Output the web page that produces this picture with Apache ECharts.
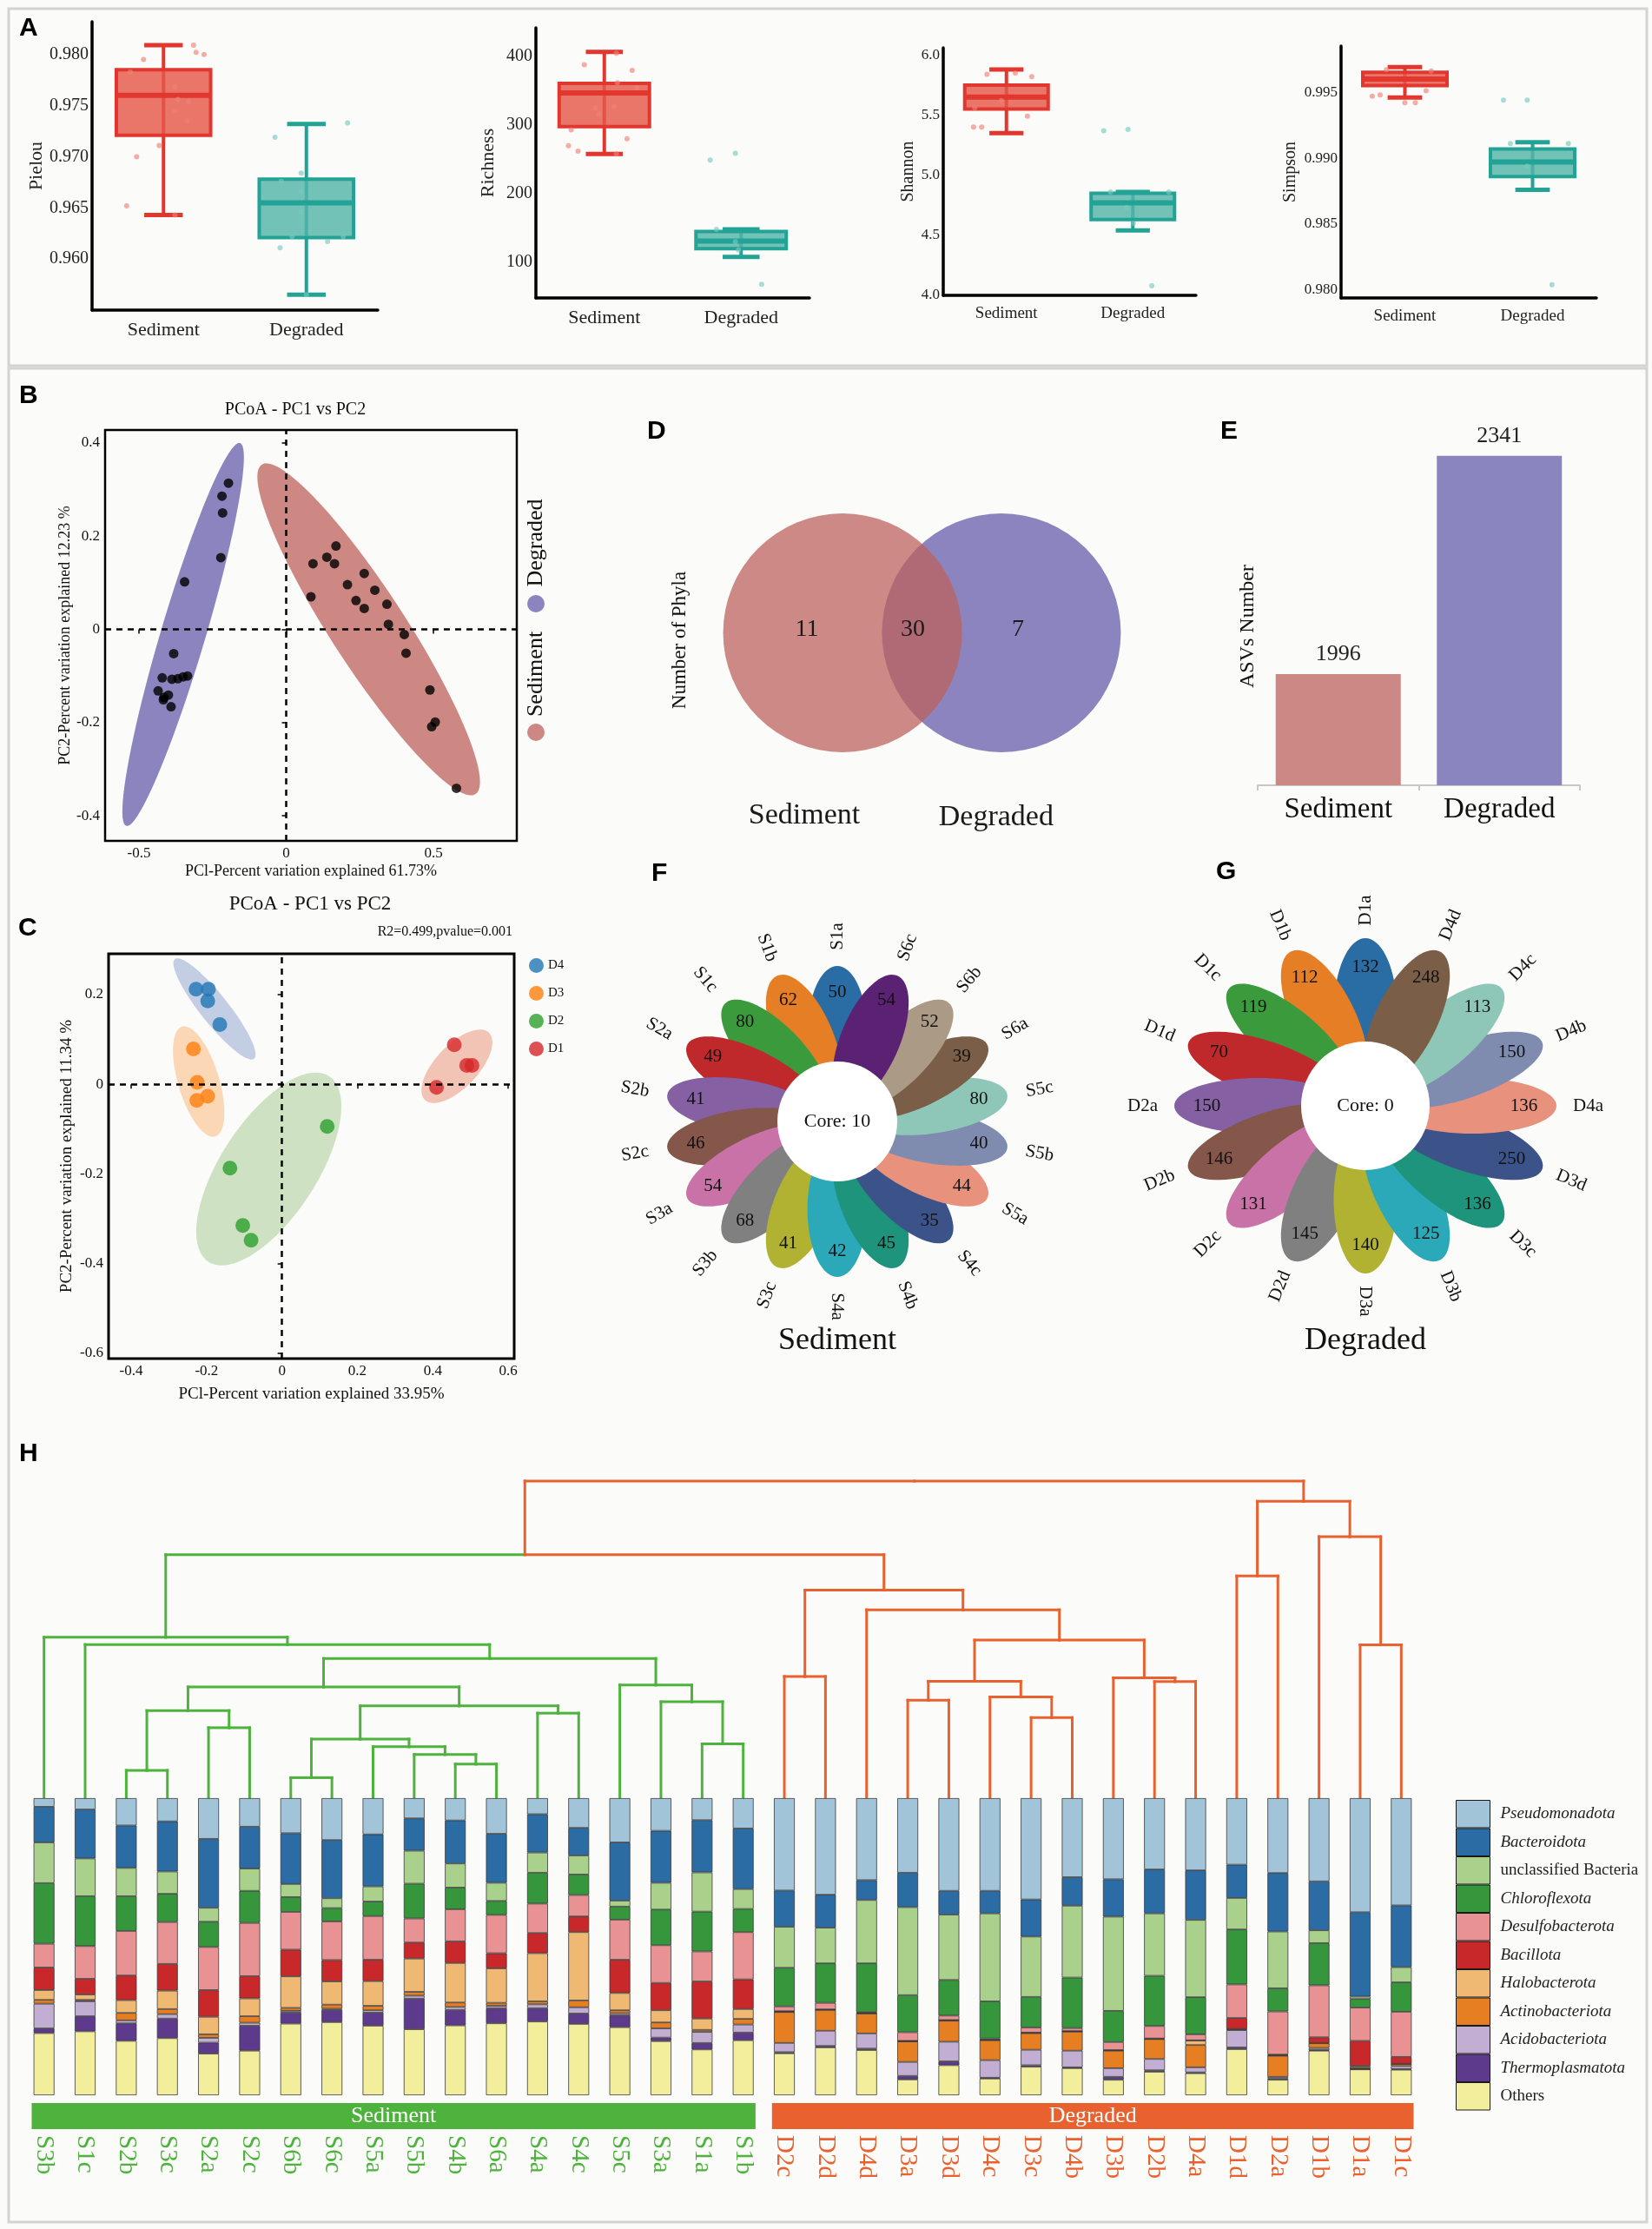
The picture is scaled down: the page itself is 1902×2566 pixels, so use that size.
<!DOCTYPE html>
<html>
<head>
<meta charset="utf-8">
<title>Figure</title>
<script src="https://cdn.jsdelivr.net/npm/echarts@6/dist/echarts.min.js"></script>
<style>
html,body{margin:0;padding:0;background:#fbfbf9;}
#chart{width:1902px;height:2566px;}
</style>
</head>
<body>
<div id="chart"></div>
<script>
// ======================= DATA =======================
const groupNames = ['Sediment', 'Degraded'];

// ---- Panel A: alpha diversity, box stats [min, Q1, median, Q3, max]
const pielouBoxSed = [0.9643, 0.9721, 0.9760, 0.9785, 0.9809];
const pielouBoxDeg = [0.9565, 0.9621, 0.9655, 0.9678, 0.9732];
const pielouTicks = [0.960, 0.965, 0.970, 0.975, 0.980];
// sample points: [horizontal jitter, value]
const pielouPtsSed = [[0.105,0.9809],[0.114,0.9802],[0.142,0.9800],[-0.07,0.9795],[-0.116,0.9783],[0.04,0.9768],[0.05,0.9756],[0.087,0.9754],[0.04,0.9745],[0.083,0.9735],[-0.015,0.9711],[-0.094,0.9700],[-0.129,0.9652],[0.04,0.9643]];
const pielouPtsDeg = [[0.144,0.9733],[-0.11,0.9719],[-0.018,0.9684],[-0.088,0.9676],[-0.018,0.9666],[-0.018,0.9646],[-0.05,0.9622],[0.129,0.9622],[0.074,0.9617],[-0.092,0.9611],[0,0.9565]];

const richBoxSed = [258, 298, 347, 361, 407];
const richBoxDeg = [108, 120, 131, 145, 148];
const richTicks = [100, 200, 300, 400];
const richPtsSed = [[0.044,405],[-0.073,388],[0.102,380],[0.048,362],[0.119,355],[-0.033,325],[-0.019,316],[0.035,327],[-0.121,293],[0.083,280],[-0.131,270],[-0.096,262],[0.044,258]];
const richPtsDeg = [[-0.113,249],[-0.021,259],[-0.09,148],[-0.021,130],[-0.01,118],[0.075,68]];

const shanBoxSed = [5.35, 5.55, 5.65, 5.75, 5.88];
const shanBoxDeg = [4.54, 4.63, 4.77, 4.85, 4.86];
const shanTicks = [4.0, 4.5, 5.0, 5.5, 6.0];
const shanPtsSed = [[-0.077,5.84],[0.035,5.85],[0.1,5.82],[-0.13,5.40],[-0.098,5.40],[0.083,5.49],[-0.02,5.62],[-0.125,5.56]];
const shanPtsDeg = [[-0.115,5.37],[-0.019,5.38],[-0.088,4.86],[0.142,4.86],[-0.025,4.73],[0.002,4.60],[0.075,4.08]];

const simpBoxSed = [0.9946, 0.9955, 0.9960, 0.9965, 0.9969];
const simpBoxDeg = [0.9876, 0.9886, 0.9897, 0.9907, 0.9912];
const simpTicks = [0.980, 0.985, 0.990, 0.995];
const simpPtsSed = [[-0.072,0.9967],[0.103,0.9966],[-0.128,0.9947],[-0.097,0.9948],[0,0.9942],[0.041,0.9942],[0.083,0.9951]];
const simpPtsDeg = [[-0.114,0.9944],[-0.021,0.9944],[-0.087,0.9911],[0.14,0.9911],[-0.021,0.9894],[0.076,0.9804]];

// ---- Panel B: PCoA (PC1, PC2)
const pcoaBDegraded = [[-0.196,0.314],[-0.218,0.286],[-0.216,0.25],[-0.222,0.154],[-0.345,0.102],[-0.382,-0.052],[-0.421,-0.104],[-0.388,-0.107],[-0.368,-0.106],[-0.35,-0.102],[-0.335,-0.1],[-0.435,-0.132],[-0.415,-0.146],[-0.4,-0.141],[-0.417,-0.151],[-0.391,-0.166]];
const pcoaBSediment = [[0.091,0.141],[0.084,0.07],[0.138,0.155],[0.164,0.141],[0.169,0.179],[0.208,0.096],[0.237,0.062],[0.265,0.12],[0.265,0.045],[0.301,0.084],[0.342,0.054],[0.347,0.011],[0.401,-0.011],[0.407,-0.051],[0.488,-0.13],[0.506,-0.199],[0.494,-0.209],[0.578,-0.341]];
const pcoaBTicksX = [-0.5, 0, 0.5];
const pcoaBTicksY = [-0.4, -0.2, 0, 0.2, 0.4];
// ellipses: [centerX, centerY, semi-axis1 (dx,dy), semi-axis2 (dx,dy)] in data units
const ellipseBDegraded = [-0.35, -0.011, 0.193, 0.411, 0.073, -0.013];
const ellipseBSediment = [0.28, 0.0, 0.362, -0.354, 0.109, 0.041];

// ---- Panel C: PCoA of degraded sub-groups
const pcoaCGroups = ['D4', 'D3', 'D2', 'D1'];
const pcoaCD4 = [[-0.228,0.212],[-0.195,0.212],[-0.197,0.186],[-0.165,0.133]];
const pcoaCD3 = [[-0.235,0.079],[-0.225,0.004],[-0.197,-0.027],[-0.226,-0.036]];
const pcoaCD2 = [[0.12,-0.094],[-0.138,-0.187],[-0.104,-0.315],[-0.082,-0.348]];
const pcoaCD1 = [[0.457,0.088],[0.49,0.042],[0.504,0.042],[0.41,-0.007]];
const ellipseCD4 = [-0.179, 0.168, 0.105, -0.111, 0.029, 0.020];
const ellipseCD3 = [-0.221, 0.006, 0.044, -0.1225, 0.052, 0.0133];
const ellipseCD2 = [-0.035, -0.189, 0.16, 0.207, 0.107, -0.0585];
const ellipseCD1 = [0.464, 0.040, 0.0847, 0.0751, 0.041, -0.0327];
const pcoaCTicksX = [-0.4, -0.2, 0, 0.2, 0.4, 0.6];
const pcoaCTicksY = [-0.6, -0.4, -0.2, 0, 0.2];

// ---- Panel D: Venn (phyla)
const vennOnlySed = 11, vennShared = 30, vennOnlyDeg = 7;

// ---- Panel E: ASVs number
const asvNumbers = [1996, 2341];

// ---- Panel F / G: flower plots (unique ASVs per sample, core)
const sedSamples = ['S1a','S1b','S1c','S2a','S2b','S2c','S3a','S3b','S3c','S4a','S4b','S4c','S5a','S5b','S5c','S6a','S6b','S6c'];
const sedUnique  = [50,62,80,49,41,46,54,68,41,42,45,35,44,40,80,39,52,54];
const sedCore = 10;
const degSamples = ['D1a','D1b','D1c','D1d','D2a','D2b','D2c','D2d','D3a','D3b','D3c','D3d','D4a','D4b','D4c','D4d'];
const degUnique  = [132,112,119,70,150,146,131,145,140,125,136,250,136,150,113,248];
const degCore = 0;

// ---- Panel H: phylum composition (%) ordered as clustered
const taxa = ['Pseudomonadota','Bacteroidota','unclassified Bacteria','Chloroflexota','Desulfobacterota','Bacillota','Halobacterota','Actinobacteriota','Acidobacteriota','Thermoplasmatota','Others'];
const taxaItalic = [true,true,false,true,true,true,true,true,true,true,false];
const samplesH = ['S3b','S1c','S2b','S3c','S2a','S2c','S6b','S6c','S5a','S5b','S4b','S6a','S4a','S4c','S5c','S3a','S1a','S1b',
                  'D2c','D2d','D4d','D3a','D3d','D4c','D3c','D4b','D3b','D2b','D4a','D1d','D2a','D1b','D1a','D1c'];
// one row per sample (same order as samplesH), columns in taxa order
const abundance = [
 [2.9,12.0,13.7,20.4,8.0,7.6,3.3,1.3,8.3,1.6,20.9],
 [3.8,16.5,12.7,16.8,11.0,5.3,1.8,0.5,5.0,5.1,21.5],
 [9.2,14.3,9.5,11.7,15.0,8.3,4.3,2.5,1.0,5.9,18.3],
 [7.8,16.9,7.5,9.5,14.1,9.0,6.2,1.7,1.5,6.6,19.2],
 [13.7,23.2,4.7,8.5,14.5,9.0,5.9,1.2,1.6,3.7,14.0],
 [9.6,14.1,7.5,10.8,17.9,7.5,6.0,2.2,1.0,8.4,15.0],
 [11.8,17.1,4.4,5.0,12.7,9.0,10.6,1.0,0.6,3.7,24.1],
 [14.1,19.6,3.3,4.5,13.0,7.2,7.8,1.4,0.4,4.1,24.6],
 [12.2,17.5,5.1,4.9,14.7,7.2,8.3,1.5,0.8,4.4,23.4],
 [6.8,10.9,11.1,11.7,8.1,5.4,11.2,1.3,1.0,10.3,22.2],
 [7.5,14.5,8.1,7.3,10.8,7.3,13.3,1.5,1.0,5.2,23.5],
 [12.0,16.5,6.1,4.7,12.9,5.1,11.6,1.0,0.8,5.1,24.2],
 [5.4,12.9,6.8,10.4,9.9,6.8,16.2,1.0,1.3,4.5,24.8],
 [10.0,9.3,6.4,6.9,7.2,5.3,23.0,2.3,2.1,3.5,24.0],
 [14.9,19.6,2.0,4.4,13.5,11.2,5.8,1.0,0.7,4.0,22.9],
 [11.0,17.5,9.0,12.0,12.7,9.2,4.1,2.0,3.1,1.2,18.2],
 [7.4,17.6,13.2,13.4,10.1,12.5,3.8,0.7,3.7,2.2,15.4],
 [10.2,20.4,6.7,7.8,15.9,10.0,3.3,1.9,2.7,2.6,18.5],
 [31.1,12.2,13.8,13.0,1.6,0.2,0.1,10.4,3.1,0.4,14.1],
 [32.5,11.1,12.0,13.3,2.2,0.1,0.1,7.0,5.1,0.5,16.1],
 [27.6,6.7,21.3,16.4,0.3,0.1,0.1,6.7,5.1,0.5,15.2],
 [25.1,11.6,29.6,12.5,2.9,0.1,0.1,6.9,4.7,1.2,5.3],
 [31.2,8.0,22.0,12.0,1.5,0.1,0.1,7.1,6.6,1.3,10.1],
 [31.2,7.6,29.6,12.5,0.4,0.1,0.1,6.7,5.9,0.3,5.6],
 [34.1,12.5,20.3,10.3,1.7,0.1,0.1,5.6,5.2,0.5,9.6],
 [26.6,9.6,24.2,17.0,1.0,0.1,0.1,6.4,5.6,0.3,9.1],
 [27.3,12.6,31.7,10.5,2.7,0.1,0.1,5.9,2.9,1.0,5.2],
 [24.0,14.8,21.0,16.9,4.2,0.1,0.1,6.7,3.8,0.5,7.9],
 [24.3,16.7,26.0,12.5,2.0,0.1,1.5,7.5,1.7,0.3,7.4],
 [22.4,11.2,10.6,18.5,11.3,3.7,0.1,0.3,5.8,0.6,15.5],
 [25.2,19.7,19.1,7.8,14.5,0.3,0.1,7.1,0.5,0.5,5.2],
 [28.0,16.5,4.3,14.2,17.5,1.9,0.1,1.6,0.7,0.2,15.0],
 [38.4,28.4,0.8,2.9,11.2,8.4,0.4,0.5,0.2,0.1,8.7],
 [36.1,20.8,5.1,9.9,15.2,2.3,0.1,0.7,1.0,0.2,8.6]
];
// hierarchical clustering merges: [left child, right child, height]; child = sample name or earlier merge index
const dendroMerges = [
 ['S2b','S3c',0.085], ['S2a','S2c',0.220], [0,1,0.274], ['S6b','S6c',0.062], ['S4b','S6a',0.105],
 ['S5b',4,0.135], ['S5a',5,0.160], [3,6,0.184], ['S4a','S4c',0.266], [7,8,0.289],
 [2,9,0.349], ['S1a','S1b',0.169], ['S3a',11,0.302], ['S5c',12,0.355], [10,13,0.439],
 ['S1c',14,0.483], ['S3b',15,0.506],
 ['D2c','D2d',0.382], ['D3a','D3d',0.307], ['D3c','D4b',0.252], ['D4c',19,0.317], [18,20,0.367],
 ['D2b','D4a',0.366], ['D3b',22,0.378], [21,23,0.497], ['D4d',24,0.593], [17,25,0.655],
 [16,26,0.767], ['D1d','D2a',0.700], ['D1a','D1c',0.482], ['D1b',29,0.824], [28,30,0.936], [27,31,1.000]
];

// ======================= STYLE =======================
const SERIF = '"Liberation Serif","Times New Roman",serif';
const SANS = '"Liberation Sans",Arial,sans-serif';
const BOXCOL = [{line:'#e2372e', fill:'rgba(229,88,74,0.82)', pt:'rgba(238,128,118,0.8)'},
                {line:'#22a396', fill:'rgba(84,180,170,0.82)', pt:'rgba(120,200,190,0.8)'}];
const PETAL = ['#2a6ca4','#e67e26','#3a9a3c','#c0292b','#8560a2','#85564a','#c872a8','#808080','#b1b232',
               '#2ca9b9','#1d947b','#3b5388','#e8927d','#7f8cb0','#8ec7b8','#7a5e47','#ab9b86','#5b2172'];
const TAXCOL = ['#a2c4d9','#2a6ca3','#a9d18b','#36963b','#e89294','#c9282a','#efb873','#e67e22','#c2aed2','#5e3a8c','#f2ee9b'];
const GREEN = '#4db33d', ORANGE = '#e9612e';

const grid = [], xAxis = [], yAxis = [], series = [], graphic = [], legend = [];

function tickFormatter(ticks, span) {
  return function (v) {
    for (const t of ticks) if (Math.abs(t - v) < span * 1e-4) return String(t);
    return '';
  };
}

// ======================= PANEL A =======================
const boxPanels = [
  {name:'Pielou', g:{left:106,top:25,width:329,height:332}, min:0.955, max:0.9832, interval:0.005, ticks:pielouTicks, dec:3,
   box:[pielouBoxSed,pielouBoxDeg], pts:[pielouPtsSed,pielouPtsDeg], fs:20, nameGap:52, nameFs:22, catFs:22},
  {name:'Richness', g:{left:617,top:32,width:315,height:311}, min:48, max:442, split:4, ticks:richTicks, dec:0,
   box:[richBoxSed,richBoxDeg], pts:[richPtsSed,richPtsDeg], fs:20, nameGap:44, nameFs:22, catFs:22},
  {name:'Shannon', g:{left:1086,top:55,width:291,height:285}, min:4.0, max:6.06, interval:0.5, ticks:shanTicks, dec:1,
   box:[shanBoxSed,shanBoxDeg], pts:[shanPtsSed,shanPtsDeg], fs:17, nameGap:30, nameFs:20, catFs:19},
  {name:'Simpson', g:{left:1544,top:53,width:294,height:290}, min:0.9794, max:0.9985, split:4, ticks:simpTicks, dec:3,
   box:[simpBoxSed,simpBoxDeg], pts:[simpPtsSed,simpPtsDeg], fs:17, nameGap:48, nameFs:20, catFs:19}
];
const groupPos = [0.25, 0.75];

function boxRender(params, api) {
  const gi = params.dataIndex;
  const x = api.value(0);
  const c = v => api.coord([x, v]);
  const pMin = c(api.value(1)), pQ1 = c(api.value(2)), pMed = c(api.value(3)), pQ3 = c(api.value(4)), pMax = c(api.value(5));
  const bw = api.size([0.33, 0])[0], cw = api.size([0.135, 0])[0];
  const cx = pMin[0], col = BOXCOL[gi];
  return {type:'group', children:[
    {type:'line', shape:{x1:cx,y1:pMin[1],x2:cx,y2:pMax[1]}, style:{stroke:col.line,lineWidth:4}},
    {type:'line', shape:{x1:cx-cw/2,y1:pMin[1],x2:cx+cw/2,y2:pMin[1]}, style:{stroke:col.line,lineWidth:5}},
    {type:'line', shape:{x1:cx-cw/2,y1:pMax[1],x2:cx+cw/2,y2:pMax[1]}, style:{stroke:col.line,lineWidth:5}},
    {type:'rect', shape:{x:cx-bw/2,y:pQ3[1],width:bw,height:pQ1[1]-pQ3[1]}, style:{fill:col.fill,stroke:col.line,lineWidth:4}},
    {type:'line', shape:{x1:cx-bw/2,y1:pMed[1],x2:cx+bw/2,y2:pMed[1]}, style:{stroke:col.line,lineWidth:6}}
  ]};
}

boxPanels.forEach((p, i) => {
  grid.push(p.g);
  xAxis.push({type:'category', gridIndex:i, data:groupNames,
    axisLine:{show:true, lineStyle:{color:'#000', width:3.5}}, axisTick:{show:false},
    axisLabel:{fontFamily:SERIF, fontSize:p.catFs, color:'#222', margin:12}});
  xAxis.push({type:'value', gridIndex:i, min:0, max:1, show:false});
  const ya = {type:'value', gridIndex:i, min:p.min, max:p.max,
    axisLine:{show:true, lineStyle:{color:'#000', width:3.5}}, axisTick:{show:false}, splitLine:{show:false},
    axisLabel:{fontFamily:SERIF, fontSize:p.fs, color:'#222', margin:4,
      formatter: v => { for (const t of p.ticks) if (Math.abs(t - v) < (p.max - p.min) * 1e-4) return t.toFixed(p.dec); return ''; }},
    name:p.name, nameLocation:'middle', nameGap:p.nameGap,
    nameTextStyle:{fontFamily:SERIF, fontSize:p.nameFs, color:'#222'}};
  if (p.interval) ya.interval = p.interval; else ya.splitNumber = p.split;
  yAxis.push(ya);
  series.push({type:'custom', xAxisIndex:2*i+1, yAxisIndex:i, renderItem:boxRender, z:2,
    data:[[groupPos[0], ...p.box[0]], [groupPos[1], ...p.box[1]]]});
  [0,1].forEach(gi => {
    series.push({type:'scatter', xAxisIndex:2*i+1, yAxisIndex:i, symbolSize:6, z:3, silent:true,
      itemStyle:{color:BOXCOL[gi].pt},
      data:p.pts[gi].map(d => [groupPos[gi] + d[0], d[1]])});
  });
});

// ======================= ELLIPSE helper =======================
function ellipseRender(colors) {
  return function (params, api) {
    const cx = api.value(0), cy = api.value(1), ux = api.value(2), uy = api.value(3), vx = api.value(4), vy = api.value(5);
    const pts = [];
    for (let k = 0; k <= 90; k++) {
      const t = 2 * Math.PI * k / 90;
      pts.push(api.coord([cx + Math.cos(t) * ux + Math.sin(t) * vx, cy + Math.cos(t) * uy + Math.sin(t) * vy]));
    }
    return {type:'polygon', shape:{points:pts}, style:{fill:colors[params.dataIndex]}};
  };
}
const dashedLines = {symbol:'none', silent:true, animation:false, label:{show:false},
  lineStyle:{type:[7,6], color:'#000', width:2.5}, data:[{xAxis:0},{yAxis:0}]};

// ======================= PANEL B (grid 4) =======================
grid.push({left:121, top:495, width:474, height:473, show:true, borderColor:'#000', borderWidth:2.5, backgroundColor:'transparent'});
xAxis.push({type:'value', gridIndex:4, min:-0.615, max:0.783, splitNumber:3, splitLine:{show:false},
  axisLine:{show:false}, axisTick:{show:true, length:5, lineStyle:{color:'#000', width:1.5}},
  axisLabel:{fontFamily:SERIF, fontSize:17, color:'#111', margin:6, formatter:tickFormatter(pcoaBTicksX, 1.4)},
  name:'PCl-Percent variation explained 61.73%', nameLocation:'middle', nameGap:26,
  nameTextStyle:{fontFamily:SERIF, fontSize:18, color:'#111'}});
yAxis.push({type:'value', gridIndex:4, min:-0.454, max:0.428, splitNumber:4, splitLine:{show:false},
  axisLine:{show:false}, axisTick:{show:true, length:5, lineStyle:{color:'#000', width:1.5}},
  axisLabel:{fontFamily:SERIF, fontSize:17, color:'#111', margin:6, formatter:tickFormatter(pcoaBTicksY, 0.9)},
  name:'PC2-Percent variation explained 12.23 %', nameLocation:'middle', nameGap:35,
  nameTextStyle:{fontFamily:SERIF, fontSize:18, color:'#111'}});
series.push({type:'custom', xAxisIndex:8, yAxisIndex:4, z:1, silent:true,
  renderItem:ellipseRender(['#8b84be','#cd8884']), data:[ellipseBDegraded, ellipseBSediment]});
series.push({type:'line', xAxisIndex:8, yAxisIndex:4, data:[], z:3, markLine:dashedLines});
series.push({type:'scatter', name:'Degraded', xAxisIndex:8, yAxisIndex:4, symbolSize:11, z:4, itemStyle:{color:'#000'}, data:pcoaBDegraded});
series.push({type:'scatter', name:'Sediment', xAxisIndex:8, yAxisIndex:4, symbolSize:11, z:4, itemStyle:{color:'#000'}, data:pcoaBSediment});

// ======================= PANEL C (grid 5) =======================
grid.push({left:125, top:1098, width:467, height:466, show:true, borderColor:'#000', borderWidth:3, backgroundColor:'transparent'});
xAxis.push({type:'value', gridIndex:5, min:-0.46, max:0.616, splitNumber:5, splitLine:{show:false},
  axisLine:{show:false}, axisTick:{show:true, length:5, lineStyle:{color:'#000', width:1.5}},
  axisLabel:{fontFamily:SERIF, fontSize:17, color:'#111', margin:6, formatter:tickFormatter(pcoaCTicksX, 1.1)},
  name:'PCl-Percent variation explained 33.95%', nameLocation:'middle', nameGap:32,
  nameTextStyle:{fontFamily:SERIF, fontSize:19, color:'#111'}});
yAxis.push({type:'value', gridIndex:5, min:-0.612, max:0.291, splitNumber:5, splitLine:{show:false},
  axisLine:{show:false}, axisTick:{show:true, length:5, lineStyle:{color:'#000', width:1.5}},
  axisLabel:{fontFamily:SERIF, fontSize:17, color:'#111', margin:6, formatter:tickFormatter(pcoaCTicksY, 0.9)},
  name:'PC2-Percent variation explained 11.34 %', nameLocation:'middle', nameGap:38,
  nameTextStyle:{fontFamily:SERIF, fontSize:19, color:'#111'}});
const pcoaCColors = ['#1f77b4','#ff7f0e','#2ca02c','#d62728'];
series.push({type:'custom', xAxisIndex:9, yAxisIndex:5, z:1, silent:true,
  renderItem:ellipseRender(['#c3cde3','#fbd7b6','#cfe1c3','#f2c4b6']),
  data:[ellipseCD4, ellipseCD3, ellipseCD2, ellipseCD1]});
series.push({type:'line', xAxisIndex:9, yAxisIndex:5, data:[], z:3, markLine:dashedLines});
[pcoaCD4, pcoaCD3, pcoaCD2, pcoaCD1].forEach((d, k) => {
  series.push({type:'scatter', name:pcoaCGroups[k], xAxisIndex:9, yAxisIndex:5, symbolSize:17, z:4,
    itemStyle:{color:pcoaCColors[k]}, data:d});
});
legend.push({left:604, top:1098, orient:'vertical', itemWidth:17, itemHeight:17, itemGap:15, icon:'circle',
  data:pcoaCGroups, textStyle:{fontFamily:SERIF, fontSize:15, color:'#111'}, selectedMode:false});

// ======================= PANEL D Venn (grid 6) =======================
grid.push({left:832, top:591, width:459, height:275});
xAxis.push({type:'value', gridIndex:6, min:0, max:459/275, show:false});
yAxis.push({type:'value', gridIndex:6, min:0, max:1, show:false});
series.push({type:'custom', xAxisIndex:10, yAxisIndex:6, silent:true, data:[[0]],
  renderItem:(params, api) => {
    const r = api.size([0.5, 0])[0];
    const cS = api.coord([0.502, 0.5]), cD = api.coord([1.167, 0.5]);
    const t = (xy, txt, fs) => ({type:'text', x:xy[0], y:xy[1],
      style:{text:String(txt), fill:'#1a1a1a', fontFamily:SERIF, fontSize:fs, align:'center', verticalAlign:'middle'}});
    return {type:'group', children:[
      {type:'circle', shape:{cx:cD[0], cy:cD[1], r:r}, style:{fill:'rgba(100,90,169,0.74)'}},
      {type:'circle', shape:{cx:cS[0], cy:cS[1], r:r}, style:{fill:'rgba(189,97,92,0.74)'}},
      t(api.coord([0.353, 0.513]), vennOnlySed, 28),
      t(api.coord([0.796, 0.513]), vennShared, 28),
      t(api.coord([1.236, 0.513]), vennOnlyDeg, 28),
      t(api.coord([0.342, -0.265]), groupNames[0], 34),
      t(api.coord([1.145, -0.272]), groupNames[1], 34)
    ]};
  }});

// ======================= PANEL E bars (grid 7) =======================
grid.push({left:1448, top:500, width:371, height:404});
xAxis.push({type:'category', gridIndex:7, data:groupNames,
  axisLine:{show:true, lineStyle:{color:'#c8c8c8', width:2}}, axisTick:{show:true, length:6, lineStyle:{color:'#c8c8c8', width:2}},
  axisLabel:{fontFamily:SERIF, fontSize:33, color:'#111', margin:12}});
yAxis.push({type:'value', gridIndex:7, min:1820, max:2375, show:false});
const asvColors = ['#cc8884', '#8b85bf'];
series.push({type:'bar', xAxisIndex:11, yAxisIndex:7, barWidth:144,
  data:asvNumbers.map((v, i) => ({value:v, itemStyle:{color:asvColors[i]}})),
  label:{show:true, position:'top', distance:10, fontFamily:SERIF, fontSize:26, color:'#222'}});

// ======================= PANELS F / G flower =======================
function flowerSeries(names, counts, core, title, L) {
  const n = names.length;
  const petal = (params, api) => {
    const i = params.dataIndex;
    const th = (90 + 360 * i / n) * Math.PI / 180;
    const c = Math.cos(th), s = Math.sin(th);
    const P = (r, p) => [L.cx + L.sx * (r * c - p * s), L.cy - (r * s + p * c)];
    const pts = [];
    for (let k = 0; k <= 72; k++) {
      const t = 2 * Math.PI * k / 72;
      pts.push(P(L.d + L.a * Math.cos(t), L.b * Math.sin(t)));
    }
    const np = P(L.rNum, 0), lp = P(L.rLab, 0);
    const rot = c < -1e-6 ? th - Math.PI : th;
    return {type:'group', children:[
      {type:'polygon', shape:{points:pts}, style:{fill:PETAL[i]}},
      {type:'text', x:np[0], y:np[1], style:{text:String(api.value(1)), fill:'#111', fontFamily:SERIF, fontSize:21, align:'center', verticalAlign:'middle'}},
      {type:'text', x:lp[0], y:lp[1], rotation:rot, style:{text:names[i], fill:'#111', fontFamily:SERIF, fontSize:21, align:'center', verticalAlign:'middle'}}
    ]};
  };
  series.push({type:'custom', coordinateSystem:'none', silent:true, z:2, renderItem:petal,
    data:counts.map((v, i) => [i, v])});
  series.push({type:'custom', coordinateSystem:'none', silent:true, z:3, data:[[core]],
    renderItem:(params, api) => ({type:'group', children:[
      {type:'circle', shape:{cx:L.cx, cy:L.cy, r:L.coreR}, style:{fill:'#ffffff'}},
      {type:'text', x:L.cx, y:L.cy, style:{text:'Core: ' + api.value(0), fill:'#111', fontFamily:SERIF, fontSize:22, align:'center', verticalAlign:'middle'}},
      {type:'text', x:L.cx, y:L.titleY, style:{text:title, fill:'#111', fontFamily:SERIF, fontSize:36, align:'center', verticalAlign:'middle'}}
    ]})});
}
flowerSeries(sedSamples, sedUnique, sedCore, groupNames[0],
  {cx:964, cy:1291, sx:1.11, d:101, a:78, b:31, coreR:69, rNum:149, rLab:213, titleY:1544});
flowerSeries(degSamples, degUnique, degCore, groupNames[1],
  {cx:1572, cy:1273, sx:1.14, d:108, a:85, b:32, coreR:74, rNum:160, rLab:225, titleY:1544});

// ======================= PANEL H =======================
// dendrogram (grid 8)
grid.push({left:27, top:1705, width:1610, height:364});
xAxis.push({type:'value', gridIndex:8, min:-0.5, max:samplesH.length - 0.5, show:false});
yAxis.push({type:'value', gridIndex:8, min:0, max:1, show:false});
const dendroNodes = [];
const dendroSegs = [];
function dChild(ref) {
  if (typeof ref === 'string') return {x:samplesH.indexOf(ref), h:0, sed:ref[0] === 'S'};
  return dendroNodes[ref];
}
dendroMerges.forEach(([a, b, h]) => {
  const A = dChild(a), B = dChild(b);
  const xm = (A.x + B.x) / 2, ca = A.sed ? 0 : 1, cb = B.sed ? 0 : 1;
  dendroSegs.push([A.x, A.h, A.x, h, ca], [A.x, h, xm, h, ca], [xm, h, B.x, h, cb], [B.x, B.h, B.x, h, cb]);
  dendroNodes.push({x:xm, h:h, sed:A.sed && B.sed});
});
series.push({type:'custom', xAxisIndex:12, yAxisIndex:8, silent:true, data:dendroSegs,
  renderItem:(params, api) => {
    const p1 = api.coord([api.value(0), api.value(1)]), p2 = api.coord([api.value(2), api.value(3)]);
    return {type:'line', shape:{x1:p1[0], y1:p1[1], x2:p2[0], y2:p2[1]},
      style:{stroke:api.value(4) === 0 ? GREEN : ORANGE, lineWidth:3, lineCap:'square'}};
  }});

// stacked bars (grid 9)
grid.push({left:27, top:2070, width:1610, height:342});
xAxis.push({type:'category', gridIndex:9, data:samplesH, axisLine:{show:false}, axisTick:{show:false},
  axisLabel:{rotate:-90, margin:46, fontFamily:SERIF, fontSize:29, interval:0,
    color:(v) => v[0] === 'S' ? GREEN : ORANGE}});
yAxis.push({type:'value', gridIndex:9, min:0, max:100, show:false});
for (let k = taxa.length - 1; k >= 0; k--) {
  series.push({type:'bar', name:taxa[k], stack:'tax', xAxisIndex:13, yAxisIndex:9, barWidth:24,
    itemStyle:{color:TAXCOL[k], borderColor:'#3a3a3a', borderWidth:0.8},
    data:abundance.map(row => row[k])});
}
legend.push({left:1671, top:2067, orient:'vertical', itemWidth:39, itemHeight:31.5, itemGap:0, icon:'rect',
  selectedMode:false, itemStyle:{borderColor:'#1a1a1a', borderWidth:1},
  textStyle:{fontFamily:SERIF, fontSize:19, color:'#222', padding:[0,0,0,7]},
  data:taxa.map((t, k) => ({name:t, textStyle:{fontStyle:taxaItalic[k] ? 'italic' : 'normal'}}))});

// group band (grid 10)
grid.push({left:27, top:2421, width:1610, height:30});
xAxis.push({type:'value', gridIndex:10, min:-0.5, max:samplesH.length - 0.5, show:false});
yAxis.push({type:'value', gridIndex:10, min:0, max:1, show:false});
const firstDeg = samplesH.findIndex(s => s[0] === 'D');
const bandData = [[0, firstDeg - 1, 0], [firstDeg, samplesH.length - 1, 1]];
series.push({type:'custom', xAxisIndex:14, yAxisIndex:10, silent:true, data:bandData,
  renderItem:(params, api) => {
    const g = api.value(2);
    const p1 = api.coord([api.value(0) - 0.3, 1]), p2 = api.coord([api.value(1) + 0.3, 0]);
    return {type:'group', children:[
      {type:'rect', shape:{x:p1[0], y:p1[1], width:p2[0]-p1[0], height:p2[1]-p1[1]}, style:{fill:g === 0 ? GREEN : ORANGE}},
      {type:'text', x:(p1[0]+p2[0])/2, y:(p1[1]+p2[1])/2, style:{text:groupNames[g], fill:'#fff', fontFamily:SERIF, fontSize:26, align:'center', verticalAlign:'middle'}}
    ]};
  }});

// ======================= GRAPHICS (frames, panel letters, titles) =======================
const letter = (t, x, y) => ({type:'text', x:x, y:y, z:10, style:{text:t, fontFamily:SANS, fontWeight:'bold', fontSize:30, fill:'#000'}});
graphic.push(
  {type:'rect', shape:{x:10, y:10, width:1886, height:411}, style:{fill:'none', stroke:'#d3d3d3', lineWidth:3}, z:0},
  {type:'rect', shape:{x:10, y:424, width:1886, height:2134}, style:{fill:'none', stroke:'#d3d3d3', lineWidth:3}, z:0},
  letter('A', 22, 18), letter('B', 22, 441), letter('C', 21, 1054), letter('D', 745, 482),
  letter('E', 1405, 482), letter('F', 750, 991), letter('G', 1400, 989), letter('H', 22, 1659),
  {type:'text', x:340, y:472, style:{text:'PCoA - PC1 vs PC2', fontFamily:SERIF, fontSize:20, fill:'#111', align:'center', verticalAlign:'middle'}},
  {type:'text', x:357, y:1041, style:{text:'PCoA - PC1 vs PC2', fontFamily:SERIF, fontSize:23, fill:'#111', align:'center', verticalAlign:'middle'}},
  {type:'text', x:590, y:1073, style:{text:'R2=0.499,pvalue=0.001', fontFamily:SERIF, fontSize:16, fill:'#111', align:'right', verticalAlign:'middle'}},
  // panel B legend (rotated)
  {type:'text', x:617, y:625, rotation:Math.PI/2, style:{text:'Degraded', fontFamily:SERIF, fontSize:26, fill:'#111', align:'center', verticalAlign:'middle'}},
  {type:'circle', shape:{cx:617, cy:695, r:10}, style:{fill:'#8b84be'}},
  {type:'text', x:617, y:776, rotation:Math.PI/2, style:{text:'Sediment', fontFamily:SERIF, fontSize:26, fill:'#111', align:'center', verticalAlign:'middle'}},
  {type:'circle', shape:{cx:617, cy:843, r:10}, style:{fill:'#cd8884'}},
  {type:'text', x:783, y:737, rotation:Math.PI/2, style:{text:'Number of Phyla', fontFamily:SERIF, fontSize:23, fill:'#111', align:'center', verticalAlign:'middle'}},
  {type:'text', x:1437, y:721, rotation:Math.PI/2, style:{text:'ASVs Number', fontFamily:SERIF, fontSize:24, fill:'#111', align:'center', verticalAlign:'middle'}}
);

// ======================= RENDER =======================
const chart = echarts.init(document.getElementById('chart'), null, {renderer:'canvas', width:1902, height:2566});
chart.setOption({
  backgroundColor:'#fbfbf9',
  animation:false,
  grid, xAxis, yAxis, series, legend, graphic
});
</script>
</body>
</html>
